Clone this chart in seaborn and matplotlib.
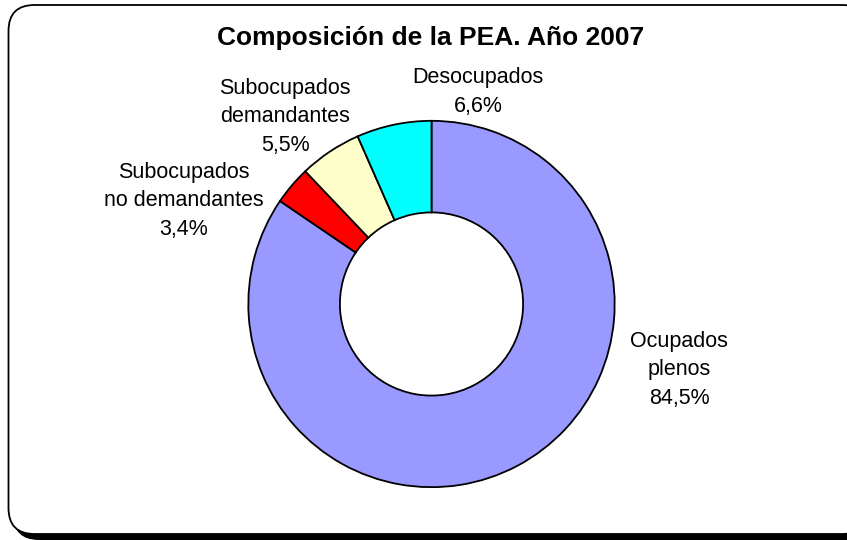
import matplotlib
matplotlib.use("Agg")
import matplotlib.pyplot as plt
from matplotlib.patches import FancyBboxPatch
import seaborn as sns

# Data (clockwise from 12 o'clock)
categories = ["Ocupados\nplenos", "Subocupados\nno demandantes",
              "Subocupados\ndemandantes", "Desocupados"]
shares = [84.5, 3.4, 5.5, 6.6]
colors = ["#9999FF", "#FF0000", "#FFFFCC", "#00FFFF"]
title = "Composición de la PEA. Año 2007"

# label centres in pixels (layout only)
label_pos = [(679, 370), (184, 201), (285, 117), (478, 92)]

sns.set_theme(style="white")
plt.rcParams["font.family"] = ["Liberation Sans", "DejaVu Sans"]
plt.rcParams["text.color"] = "black"

W, H = 847, 540
fig = plt.figure(figsize=(W / 100, H / 100), dpi=100)
fig.patch.set_facecolor("white")

# background layer in pixel coordinates (frame)
bg = fig.add_axes([0, 0, 1, 1])
bg.set_xlim(0, W)
bg.set_ylim(H, 0)
bg.axis("off")

shadow = FancyBboxPatch((13, 10), 860, 530, boxstyle="round,pad=0,rounding_size=26",
                        facecolor="black", edgecolor="none")
frame = FancyBboxPatch((8.5, 5), 860, 529, boxstyle="round,pad=0,rounding_size=26",
                       facecolor="white", edgecolor="black", linewidth=1.3)
bg.add_patch(shadow)
bg.add_patch(frame)

# donut
cx, cy, r = 431.5, 304, 185
ax = fig.add_axes([(cx - r) / W, (H - cy - r) / H, 2 * r / W, 2 * r / H])
ax.pie(shares, colors=colors, startangle=90, counterclock=False, radius=1,
       wedgeprops=dict(width=0.5, edgecolor="black", linewidth=1.3))
ax.set_xlim(-1.01, 1.01)
ax.set_ylim(-1.01, 1.01)
ax.axis("off")

# text layer on top
top = fig.add_axes([0, 0, 1, 1])
top.set_xlim(0, W)
top.set_ylim(H, 0)
top.axis("off")
top.patch.set_alpha(0)

top.text(431, 38, title, ha="center", va="center", fontsize=19, fontweight="bold",
         color="black")

for (x, y), cat, val in zip(label_pos, categories, shares):
    txt = cat + "\n" + f"{val:.1f}".replace(".", ",") + "%"
    top.text(x, y, txt, ha="center", va="center", fontsize=15.5, linespacing=1.45,
             color="black")

fig.savefig("out.png", dpi=100)
plt.close(fig)
